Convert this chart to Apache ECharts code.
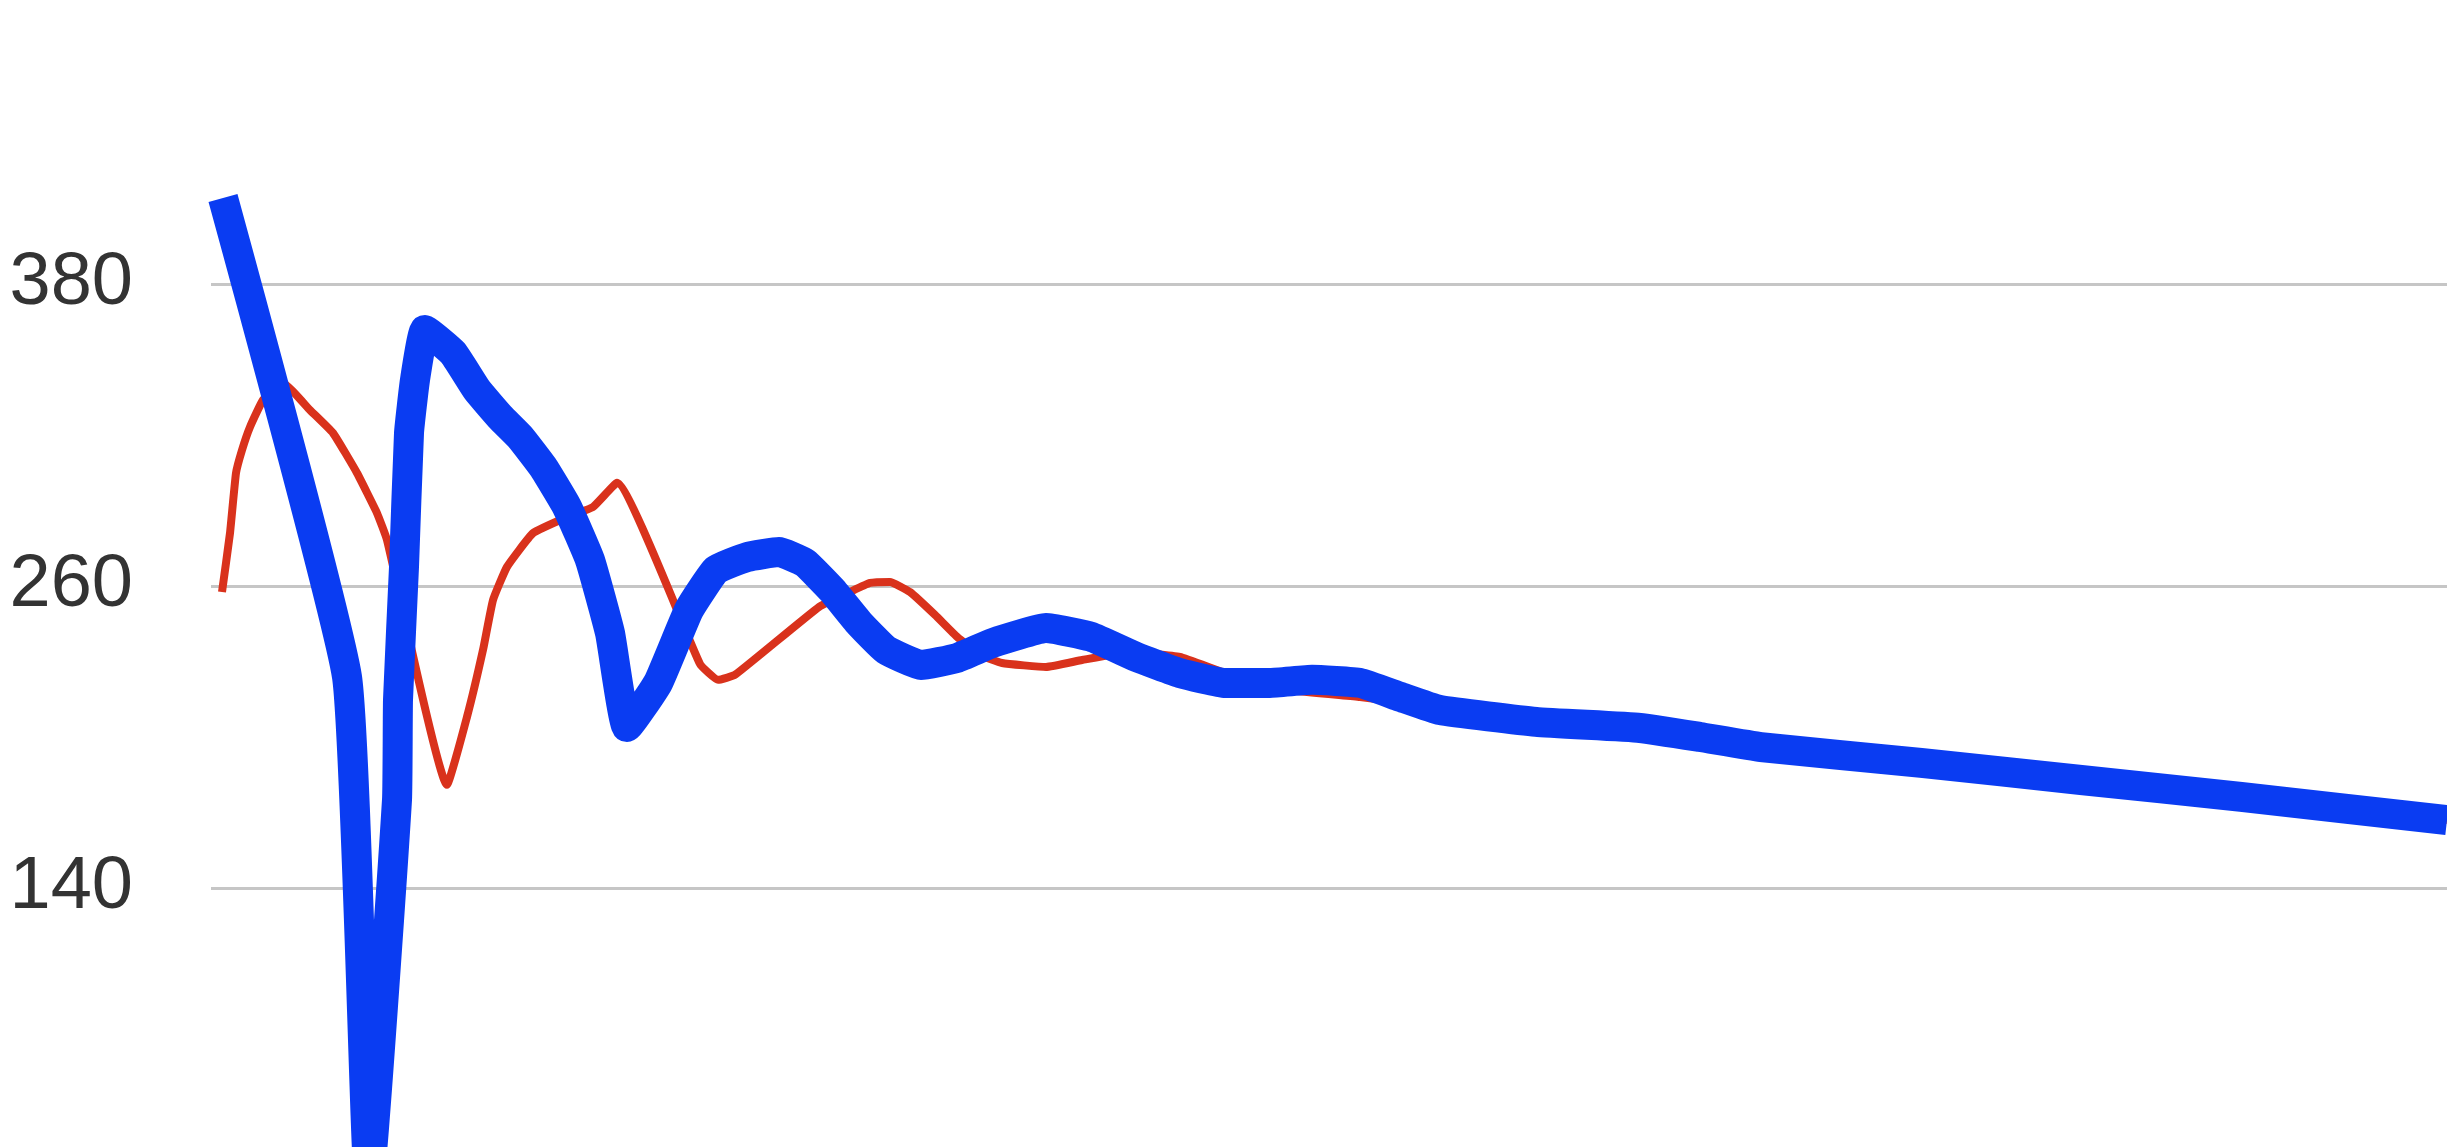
<!DOCTYPE html>
<html>
<head>
<meta charset="utf-8">
<script src="https://cdn.jsdelivr.net/npm/echarts@6/dist/echarts.min.js"></script>
<style>
html,body{margin:0;padding:0;background:#fff;overflow:hidden;width:2447px;height:1147px;}
#chart{position:absolute;left:0;top:-18px;width:2447px;height:1208px;}
</style>
</head>
<body>
<div id="chart"></div>
<script>
// y-axis ticks
const yTicks = [20, 140, 260, 380, 500];

// red series (thin): x positions and values
const redX = [1.1, 1.9, 2.5, 3.1, 3.9, 5.2, 7.2, 9.9, 12.2, 14.6, 16.6, 17.6, 23.6, 25.6, 27.2, 28.2, 29.6, 32.2, 35.6, 38.2, 40.6, 48.9, 50.7, 52.4, 60.8, 63.9, 65.9, 67.9, 69.9, 72.4, 74.6, 76.9, 79.1, 83.5, 87.1, 91.9, 96.9, 101.4, 107.9, 114.9, 120.9, 126.9, 132.5, 142.9, 148.9, 155.0, 171.0, 187.0, 203.0, 223.6];
const redY = [257.6, 281, 304.9, 314, 323.2, 333.9, 340.7, 329.9, 320.8, 304.9, 289, 278.3, 181, 208, 234.6, 254.4, 267.6, 281, 287.4, 291.4, 301, 229, 222.7, 224.7, 251.7, 257.6, 261.2, 261.6, 257.6, 248.5, 239.8, 232.6, 229.4, 227.8, 230.6, 233.8, 231.8, 225.4, 218.7, 215.9, 212.7, 208.4, 206.0, 203.6, 200, 196.0, 189.7, 182.9, 176.2, 167.0];

// blue series (thick): x positions and values
const blueX = [1.2, 13.6, 15.8, 18.6, 18.7, 19.3, 19.8, 20.4, 21.4, 24.2, 26.6, 28.9, 30.9, 33.2, 35.6, 37.9, 39.9, 41.6, 44.7, 47.8, 50.5, 53.6, 56.8, 59.4, 62.1, 64.8, 67.5, 71.0, 74.6, 78.2, 83.5, 88.0, 92.5, 96.9, 101.4, 105.9, 110.1, 114.9, 118.9, 122.9, 132.5, 142.9, 148.9, 155.0, 171.0, 187.0, 203.0, 223.6];
const blueY = [414.2, 223.9, 24, 175, 214.7, 267.6, 320.8, 341.9, 361.7, 352.6, 337.9, 327.2, 319.2, 307.3, 291.4, 270.3, 241.3, 204.0, 221.5, 250.5, 266.4, 271.5, 273.5, 269.2, 258.4, 245.3, 234.6, 228.6, 231.4, 237.4, 243.3, 239.8, 231.8, 225.4, 221.5, 221.5, 222.7, 221.5, 216, 210.7, 206.0, 203.6, 200, 196.0, 189.7, 182.9, 176.2, 167.0];

const pairs = (xs, ys) => xs.map((x, i) => [x, ys[i]]);

const chart = echarts.init(document.getElementById('chart'), null, {renderer: 'canvas'});
chart.setOption({
  animation: false,
  backgroundColor: '#ffffff',
  grid: {left: 211, right: 0, top: 0, bottom: 0, containLabel: false},
  xAxis: {
    type: 'value', min: 0, max: 223.6, show: false
  },
  yAxis: {
    type: 'value',
    min: yTicks[0], max: yTicks[yTicks.length - 1], interval: yTicks[1] - yTicks[0],
    axisLine: {show: false},
    axisTick: {show: false},
    axisLabel: {
      showMinLabel: false, showMaxLabel: false,
      margin: 78,
      color: '#333333',
      fontFamily: "'Liberation Sans', Arial, sans-serif",
      fontSize: 74,
      padding: [0, 0, 6, 0]
    },
    splitLine: {show: true, lineStyle: {color: '#c6c6c6', width: 3}}
  },
  series: [
    {
      type: 'line', name: 'red', data: pairs(redX, redY),
      showSymbol: false, smooth: 0.12,
      lineStyle: {color: '#d9321c', width: 8, join: 'round'},
      z: 2
    },
    {
      type: 'line', name: 'blue', data: pairs(blueX, blueY),
      showSymbol: false, smooth: 0.12,
      lineStyle: {color: '#0a3cf2', width: 30, join: 'round'},
      z: 3
    }
  ]
});
</script>
</body>
</html>
